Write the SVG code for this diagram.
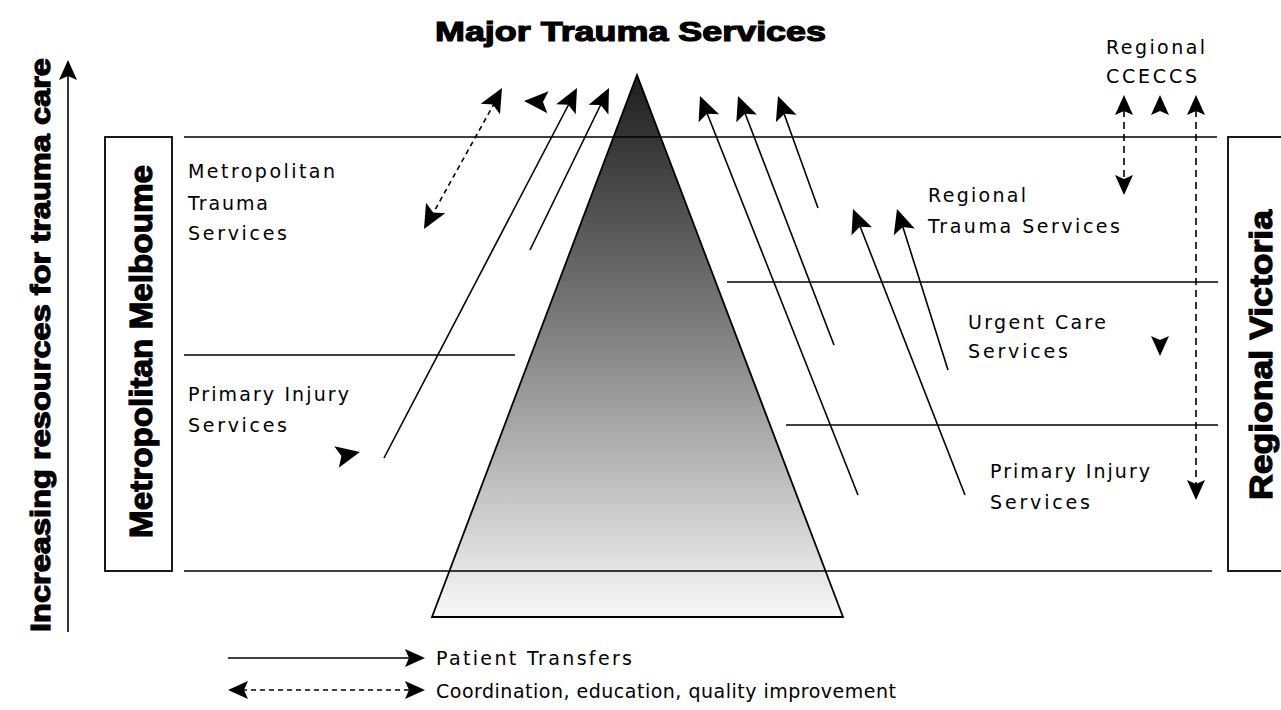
<svg xmlns="http://www.w3.org/2000/svg" width="1281" height="710" viewBox="0 0 1281 710">
<style>
.ln{stroke:#000;stroke-width:1.6;fill:none}
.ds{stroke:#000;stroke-width:1.6;fill:none;stroke-dasharray:5 4}
.dv{stroke:#000;stroke-width:1.6;fill:none;stroke-dasharray:7 5}
.t{font-family:"DejaVu Sans","Liberation Sans",sans-serif;font-size:19px;fill:#000}
.b{font-family:"Liberation Sans",Arial,sans-serif;font-weight:bold;fill:#000;stroke:#000;stroke-width:1.2}
</style>
<defs>
<linearGradient id="g" x1="0" y1="0" x2="0" y2="1">
<stop offset="0" stop-color="#1e1e1e"/>
<stop offset="0.45" stop-color="#7a7a7a"/>
<stop offset="1" stop-color="#f8f8f8"/>
</linearGradient>
<path id="hd" d="M0,0 L-24,-11 L-19,0 L-24,11 Z"/>
<path id="hs" d="M0,0 L-20,-9 L-16,0 L-20,9 Z"/>
</defs>

<g id="pyramid">
<polygon points="637,75 843,617 432,617" fill="url(#g)" stroke="#000" stroke-width="1.8"/>
</g>

<g id="bands">
<line class="ln" x1="184" y1="137" x2="1217" y2="137"/>
<line class="ln" x1="184" y1="571" x2="1212" y2="571"/>
<line class="ln" x1="184" y1="355" x2="515" y2="355"/>
<line class="ln" x1="727" y1="282" x2="1218" y2="282"/>
<line class="ln" x1="786" y1="425" x2="1218" y2="425"/>
</g>

<g id="axis">
<line class="ln" x1="68" y1="632" x2="68" y2="72"/>
<use href="#hs" transform="translate(68,60) rotate(-90)"/>
<text class="b" font-size="28" transform="translate(50,632) rotate(-90)" textLength="574" lengthAdjust="spacingAndGlyphs">Increasing resources for trauma care</text>
</g>

<g id="title">
<text class="b" font-size="28" x="435" y="41" textLength="391" lengthAdjust="spacingAndGlyphs" stroke-width="0.9">Major Trauma Services</text>
</g>

<g id="metro-melbourne">
<rect x="105" y="137" width="67" height="434" fill="none" stroke="#000" stroke-width="1.8"/>
<text class="b" font-size="32" transform="translate(152,538) rotate(-90)" textLength="373" lengthAdjust="spacingAndGlyphs">Metropolitan Melboume</text>
</g>

<g id="regional-victoria">
<rect x="1228" y="137" width="60" height="434" fill="none" stroke="#000" stroke-width="1.8"/>
<text class="b" font-size="32" transform="translate(1272,500) rotate(-90)" textLength="290" lengthAdjust="spacingAndGlyphs">Regional Victoria</text>
</g>

<g id="metro-trauma">
<text class="t" x="188" y="178" textLength="147" lengthAdjust="spacing">Metropolitan</text>
<text class="t" x="188" y="210" textLength="80" lengthAdjust="spacing">Trauma</text>
<text class="t" x="188" y="240" textLength="99" lengthAdjust="spacing">Services</text>
</g>
<g id="metro-primary">
<text class="t" x="188" y="401" textLength="161" lengthAdjust="spacing">Primary Injury</text>
<text class="t" x="188" y="432" textLength="99" lengthAdjust="spacing">Services</text>
</g>
<g id="regional-trauma">
<text class="t" x="928" y="202" textLength="98" lengthAdjust="spacing">Regional</text>
<text class="t" x="928" y="233" textLength="192" lengthAdjust="spacing">Trauma Services</text>
</g>
<g id="urgent-care">
<text class="t" x="968" y="329" textLength="138" lengthAdjust="spacing">Urgent Care</text>
<text class="t" x="968" y="358" textLength="100" lengthAdjust="spacing">Services</text>
</g>
<g id="regional-primary">
<text class="t" x="990" y="478" textLength="160" lengthAdjust="spacing">Primary Injury</text>
<text class="t" x="990" y="509" textLength="100" lengthAdjust="spacing">Services</text>
</g>
<g id="ccecs">
<text class="t" x="1106" y="54" textLength="99" lengthAdjust="spacing">Regional</text>
<text class="t" x="1106" y="83" textLength="91" lengthAdjust="spacing">CCECCS</text>
</g>

<g id="connectors">
<line class="ds" x1="431" y1="217" x2="495" y2="102"/>
<use href="#hd" transform="translate(502,88) rotate(-61)"/>
<use href="#hd" transform="translate(424,229) rotate(119)"/>
<use href="#hd" transform="translate(524,101) rotate(183)"/>
<line class="ln" x1="384" y1="458" x2="571" y2="100"/>
<use href="#hd" transform="translate(577,88) rotate(-62.5)"/>
<line class="ln" x1="530" y1="250" x2="603" y2="100"/>
<use href="#hd" transform="translate(609,88) rotate(-64)"/>
<use href="#hd" transform="translate(360,452) rotate(-12)"/>
<line class="ln" x1="858" y1="495" x2="705" y2="108"/>
<use href="#hd" transform="translate(700,96) rotate(-111.6)"/>
<line class="ln" x1="834" y1="345" x2="743" y2="108"/>
<use href="#hd" transform="translate(738,96) rotate(-111)"/>
<line class="ln" x1="818" y1="208" x2="782" y2="108"/>
<use href="#hd" transform="translate(778,96) rotate(-110)"/>
<line class="ln" x1="965" y1="495" x2="858" y2="221"/>
<use href="#hd" transform="translate(853,209) rotate(-111.4)"/>
<line class="ln" x1="948" y1="370" x2="901" y2="221"/>
<use href="#hd" transform="translate(897,209) rotate(-107.6)"/>
<use href="#hs" transform="translate(1124,95) rotate(-90)"/>
<use href="#hs" transform="translate(1160,95) rotate(-90)"/>
<use href="#hs" transform="translate(1196,95) rotate(-90)"/>
<line class="dv" x1="1124" y1="110" x2="1124" y2="182"/>
<use href="#hs" transform="translate(1124,195) rotate(90)"/>
<use href="#hs" transform="translate(1160,356) rotate(90)"/>
<line class="dv" x1="1196" y1="110" x2="1196" y2="487"/>
<use href="#hs" transform="translate(1196,500) rotate(90)"/>
</g>

<g id="legend">
<line class="ln" x1="228" y1="658" x2="412" y2="658"/>
<use href="#hs" transform="translate(425,658) rotate(0)"/>
<text class="t" x="436" y="665" textLength="196" lengthAdjust="spacing">Patient Transfers</text>
<use href="#hs" transform="translate(228,690) rotate(180)"/>
<line class="ds" x1="242" y1="690" x2="412" y2="690"/>
<use href="#hs" transform="translate(425,690) rotate(0)"/>
<text class="t" x="436" y="698" textLength="460" lengthAdjust="spacing">Coordination, education, quality improvement</text>
</g>
</svg>
